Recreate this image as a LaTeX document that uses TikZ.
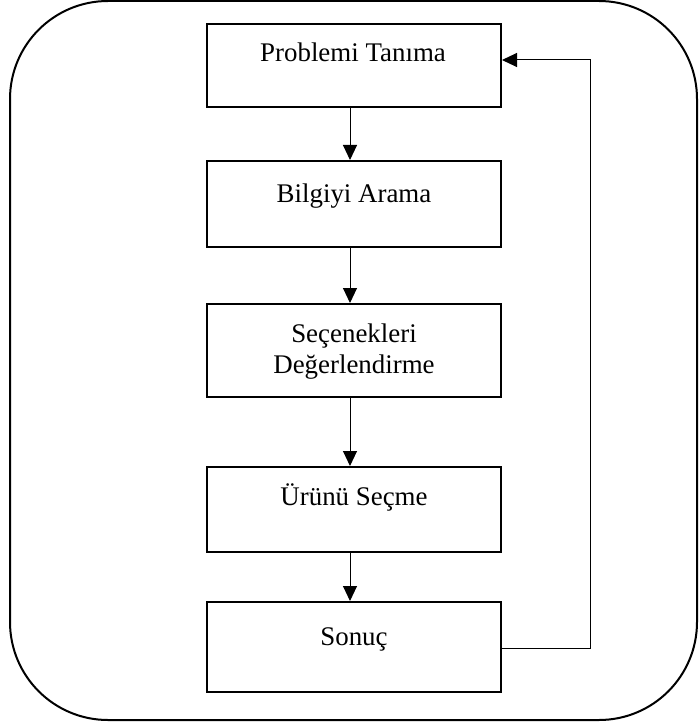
\documentclass[tikz,border=0pt]{standalone}
\usepackage{fontspec}
\setmainfont{Liberation Serif}
\usetikzlibrary{arrows.meta}
\begin{document}
\begin{tikzpicture}[x=1bp,y=1bp,
  stepbox/.style={draw, line width=2bp, minimum width=294bp, inner sep=0pt},
  lbl/.style={anchor=base, inner sep=0pt, font=\fontsize{27}{31}\selectfont},
  flow/.style={line width=1bp, -{Triangle[length=15bp,width=14bp]}},
  frame/.style={draw, line width=2bp, rounded corners=98bp}]
\useasboundingbox (0,0) rectangle (699,-726);

% outer rounded frame
\draw[frame] (10,-1) rectangle (697,-720);

% process boxes
\node[stepbox, minimum height=83bp] (b1) at (354,-65.5) {};
\node[stepbox, minimum height=86bp] (b2) at (354,-204) {};
\node[stepbox, minimum height=93bp] (b3) at (354,-350.5) {};
\node[stepbox, minimum height=85bp] (b4) at (354,-509.5) {};
\node[stepbox, minimum height=90bp] (b5) at (354,-647) {};

% box texts
\node[lbl] (t1) at (353,-62) {Problemi Tanıma};
\node[lbl] (t2) at (354,-202) {Bilgiyi Arama};
\node[lbl] (t3a) at (354,-342) {Seçenekleri};
\node[lbl] (t3b) at (354,-373) {Değerlendirme};
\node[lbl] (t4) at (354,-505) {Ürünü Seçme};
\node[lbl] (t5) at (354,-645) {Sonuç};

% downward flow
\draw[flow] ([xshift=-4bp]b1.south) -- ([xshift=-4bp]b2.north);
\draw[flow] ([xshift=-4bp]b2.south) -- ([xshift=-4bp]b3.north);
\draw[flow] ([xshift=-4bp]b3.south) -- ([xshift=-4bp]b4.north);
\draw[flow] ([xshift=-4bp]b4.south) -- ([xshift=-4bp]b5.north);

% feedback loop from the result back to the start
\coordinate (fb) at (590,0);
\draw[flow] ([yshift=-1bp]b5.east) -- ([yshift=-1bp]b5.east -| fb)
  -- ([yshift=5.5bp]b1.east -| fb) -- ([yshift=5.5bp]b1.east);
\end{tikzpicture}
\end{document}
